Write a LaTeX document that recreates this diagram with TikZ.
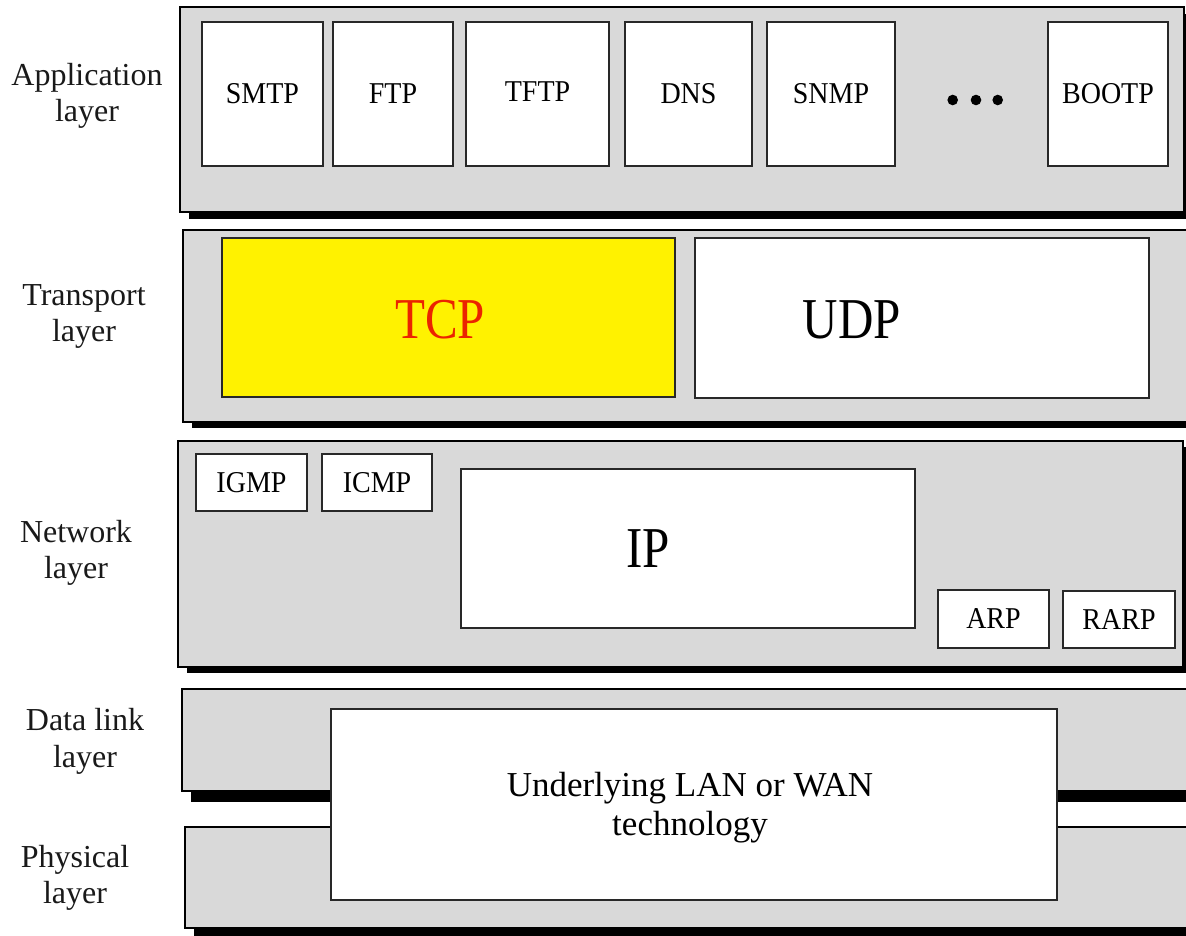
\documentclass[tikz,border=0pt]{standalone}
\usepackage{fontspec}
\setmainfont{Liberation Serif}
\usetikzlibrary{shadows}
\definecolor{laygray}{RGB}{217,217,217}
\definecolor{tcpred}{RGB}{235,35,0}
\definecolor{edge}{RGB}{40,40,40}
\newcommand\vstretch[2]{\scalebox{1}[#1]{#2}}
\tikzset{
  layerbox/.style n args={2}{draw=black, line width=1.2pt, fill=laygray, rectangle, inner sep=0pt,
     drop shadow={shadow xshift=9pt, shadow yshift=-#2pt, fill=black, opacity=1}, minimum width=#1pt},
  protobox/.style={draw=edge, line width=1.6pt, fill=white, rectangle, inner sep=0pt,
     font=\fontsize{28}{32}\selectfont},
  laylabel/.style={align=center, font=\fontsize{32}{36.5}\selectfont, text=black!90},
  bigtext/.style={font=\fontsize{49}{55}\selectfont},
}
\begin{document}
\begin{tikzpicture}[x=1pt,y=-1pt]
\useasboundingbox (0,0) rectangle (1186,936);
\clip (0,0) rectangle (1186,936);
% layer boxes
\node[layerbox={1004}{7}, minimum height=205pt] (app) at (682,109.5) {};
\node[layerbox={1017}{6}, minimum height=192pt] (trans) at (691.5,326) {};
\node[layerbox={1005}{6}, minimum height=226pt] (net) at (680.5,554) {};
\node[layerbox={1018}{11}, minimum height=102pt] (dl) at (691,740) {};
\node[layerbox={1015}{9}, minimum height=101pt] (phy) at (692.5,877.5) {};
% layer labels
\node[laylabel] (lapp) at (87,96) {Application\\layer};
\node[laylabel] (ltrans) at (84,316.5) {Transport\\layer};
\node[laylabel] (lnet) at (76,553) {Network\\layer};
\node[laylabel] (ldl) at (85,741.5) {Data link\\layer};
\node[laylabel] (lphy) at (75,878) {Physical\\layer};
% application protocols
\node[protobox, minimum width=121pt, minimum height=144pt] (smtp) at (262.5,94) {\vstretch{1.08}{SMTP}};
\node[protobox, minimum width=120pt, minimum height=144pt] (ftp) at (393,94) {\vstretch{1.08}{FTP}};
\node[protobox, minimum width=143pt, minimum height=144pt] (tftp) at (537.5,94) {\raisebox{4pt}{\vstretch{1.08}{TFTP}}};
\node[protobox, minimum width=127pt, minimum height=144pt] (dns) at (688.5,94) {\vstretch{1.08}{DNS}};
\node[protobox, minimum width=128pt, minimum height=144pt] (snmp) at (831,94) {\vstretch{1.08}{SNMP}};
\node[protobox, minimum width=120pt, minimum height=144pt] (bootp) at (1108,94) {\vstretch{1.08}{BOOTP}};
\fill[black] (952.7,100) circle (5.3pt) (976,100) circle (5.3pt) (997.7,100) circle (5.3pt);
% transport
\node[protobox, fill=yellow, minimum width=453pt, minimum height=159pt,
  label={[bigtext, text=tcpred, xshift=-8.5pt, yshift=-2.5pt]center:\vstretch{1.18}{TCP}}] (tcp) at (448.5,317.5) {};
\node[protobox, minimum width=454pt, minimum height=160pt,
  label={[bigtext, xshift=-70pt, yshift=-2pt]center:\vstretch{1.18}{UDP}}] (udp) at (922,318) {};
% network
\node[protobox, minimum width=111pt, minimum height=57pt] (igmp) at (251.5,482.5) {\vstretch{1.08}{IGMP}};
\node[protobox, minimum width=110pt, minimum height=57pt] (icmp) at (377,482.5) {\vstretch{1.08}{ICMP}};
\node[protobox, minimum width=454pt, minimum height=159pt,
  label={[bigtext, xshift=-40pt, yshift=-0.5pt]center:\vstretch{1.18}{IP}}] (ip) at (688,548.5) {};
\node[protobox, minimum width=111pt, minimum height=58pt] (arp) at (993.5,619) {\vstretch{1.08}{ARP}};
\node[protobox, minimum width=112pt, minimum height=57pt] (rarp) at (1119,619.5) {\vstretch{1.08}{RARP}};
% underlying
\node[protobox, minimum width=726pt, minimum height=191pt,
  label={[align=center, font=\fontsize{35}{39}\selectfont, xshift=-4pt, yshift=-3pt]center:Underlying LAN or WAN\\technology}] (under) at (694,804.5) {};
\end{tikzpicture}
\end{document}
